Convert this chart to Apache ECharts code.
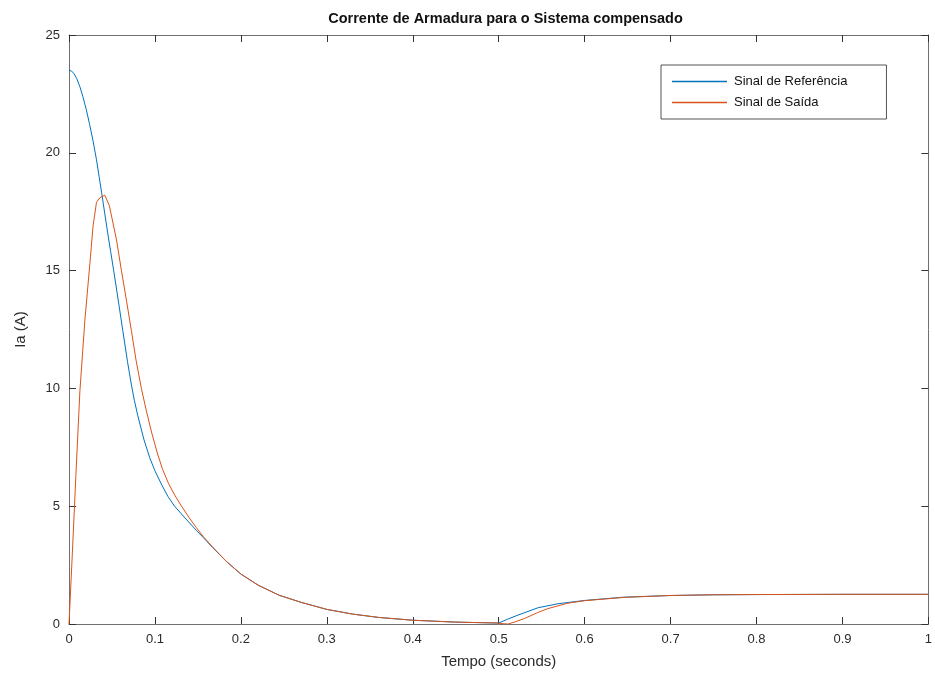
<!DOCTYPE html>
<html>
<head>
<meta charset="utf-8">
<script src="https://cdn.jsdelivr.net/npm/echarts@6/dist/echarts.min.js"></script>
<style>
html,body{margin:0;padding:0;background:#fff;}
#chart{width:935px;height:686px;}
</style>
</head>
<body>
<div id="chart"></div>
<script>
// ---- Data ----
const titleText = 'Corrente de Armadura para o Sistema compensado';
const xName = 'Tempo (seconds)';
const yName = 'Ia (A)';
const seriesNames = ['Sinal de Referência', 'Sinal de Saída'];

// Reference signal (blue)
const tRef = [0, 0.003, 0.006, 0.009, 0.0127, 0.016, 0.02, 0.024, 0.028, 0.032, 0.035, 0.038,
  0.0415, 0.045, 0.0485, 0.052, 0.056, 0.0626, 0.068, 0.0726, 0.076, 0.08, 0.087, 0.094, 0.1, 0.108,
  0.115, 0.1228, 0.135, 0.148, 0.156, 0.167, 0.183, 0.2, 0.22, 0.2445, 0.27, 0.3, 0.33, 0.36,
  0.4, 0.45, 0.5, 0.51, 0.5226, 0.5458, 0.569, 0.6, 0.646, 0.7, 0.75, 0.8, 0.9, 1.0];
const iaRef = [23.5, 23.47, 23.35, 23.15, 22.8, 22.4, 21.85, 21.2, 20.5, 19.7, 19.0, 18.3,
  17.45, 16.6, 15.8, 15.0, 14.05, 12.45, 11.15, 10.15, 9.5, 8.85, 7.85, 7.05, 6.5, 5.9,
  5.42, 5.0, 4.5, 3.98, 3.68, 3.25, 2.66, 2.12, 1.65, 1.22, 0.92, 0.62, 0.42, 0.28,
  0.16, 0.08, 0.04, 0.2, 0.38, 0.69, 0.86, 1.0, 1.14, 1.21, 1.24, 1.25, 1.26, 1.26];

// Output signal (orange)
const tOut = [0, 0.004, 0.008, 0.0127, 0.0185, 0.0243, 0.028, 0.032, 0.036, 0.0417, 0.047,
  0.0553, 0.061, 0.067, 0.0726, 0.078, 0.0842, 0.09, 0.096, 0.1024, 0.109, 0.116, 0.123,
  0.1306, 0.14, 0.148, 0.156, 0.167, 0.183, 0.2, 0.22,
  0.2445, 0.27, 0.3, 0.33, 0.36, 0.4, 0.45, 0.5, 0.505, 0.511, 0.52, 0.5304, 0.545, 0.557,
  0.58, 0.6, 0.646, 0.7, 0.75, 0.8, 0.9, 1.0];
const iaOut = [0, 3.1, 6.3, 9.9, 12.9, 15.3, 16.9, 17.9, 18.1, 18.2, 17.75,
  16.3, 15.0, 13.7, 12.45, 11.2, 10.0, 9.05, 8.15, 7.3, 6.55, 5.95, 5.47,
  5.02, 4.5, 4.1, 3.72, 3.27, 2.66, 2.12, 1.65,
  1.22, 0.92, 0.62, 0.42, 0.28, 0.16, 0.08, 0.04, 0.01, 0.0, 0.1, 0.24, 0.48, 0.65,
  0.88, 0.99, 1.13, 1.21, 1.24, 1.25, 1.26, 1.26];

const xTicks = {min: 0, max: 1, step: 0.1};
const yTicks = {min: 0, max: 25, step: 5};

// ---- Build ----
const zip = (xs, ys) => xs.map((x, i) => [x, ys[i]]);
const axisColor = '#6f6f6f';
const labelColor = '#2b2b2b';
const font = 'Liberation Sans, Arial, Helvetica, sans-serif';

function xFmt(v) {
  const r = Math.round(v * 10) / 10;
  return r === 0 ? '0' : (r === 1 ? '1' : r.toFixed(1));
}

const baseX = {
  type: 'value', min: xTicks.min, max: xTicks.max, interval: xTicks.step,
  axisLine: {show: true, onZero: false, lineStyle: {color: axisColor, width: 1}},
  axisTick: {show: true, inside: true, length: 7, lineStyle: {color: '#333', width: 1}},
  splitLine: {show: false}
};
const baseY = {
  type: 'value', min: yTicks.min, max: yTicks.max, interval: yTicks.step,
  axisLine: {show: true, onZero: false, lineStyle: {color: axisColor, width: 1}},
  axisTick: {show: true, inside: true, length: 7, lineStyle: {color: '#333', width: 1}},
  splitLine: {show: false}
};

const chart = echarts.init(document.getElementById('chart'), null, {renderer: 'canvas'});
chart.setOption({
  backgroundColor: '#ffffff',
  animation: false,
  title: {
    text: titleText, left: 500.5, top: 6, textAlign: 'center',
    textStyle: {fontFamily: font, fontSize: 14.5, fontWeight: 'bold', color: '#111'}
  },
  grid: {left: 69, right: 3, top: 35, bottom: 62, containLabel: false},
  xAxis: [
    Object.assign({}, baseX, {
      position: 'bottom',
      name: xName, nameLocation: 'middle', nameGap: 30,
      nameTextStyle: {fontFamily: font, fontSize: 15, color: labelColor},
      axisLabel: {show: true, margin: 9, color: labelColor, fontFamily: font, fontSize: 13, formatter: xFmt}
    }),
    Object.assign({}, baseX, {position: 'top', axisLabel: {show: false}})
  ],
  yAxis: [
    Object.assign({}, baseY, {
      position: 'left',
      name: yName, nameLocation: 'middle', nameGap: 41, nameRotate: 90,
      nameTextStyle: {fontFamily: font, fontSize: 15, color: labelColor},
      axisLabel: {show: true, margin: 9, color: labelColor, fontFamily: font, fontSize: 13}
    }),
    Object.assign({}, baseY, {position: 'right', axisLabel: {show: false}})
  ],
  legend: {
    data: seriesNames,
    orient: 'vertical', left: 661, top: 65,
    padding: [10, 39, 10, 11],
    itemGap: 8, itemWidth: 55, itemHeight: 1.5,
    icon: 'rect',
    borderColor: '#555', borderWidth: 1, backgroundColor: '#fff',
    textStyle: {fontFamily: font, fontSize: 13, color: '#111', padding: [0, 0, 0, 2]}
  },
  series: [
    {
      name: seriesNames[0], type: 'line', xAxisIndex: 0, yAxisIndex: 0,
      data: zip(tRef, iaRef), showSymbol: false, symbol: 'none',
      smooth: false,
      lineStyle: {color: '#0072BD', width: 1}, itemStyle: {color: '#0072BD'}
    },
    {
      name: seriesNames[1], type: 'line', xAxisIndex: 0, yAxisIndex: 0,
      data: zip(tOut, iaOut), showSymbol: false, symbol: 'none',
      smooth: false,
      lineStyle: {color: '#D95319', width: 1}, itemStyle: {color: '#D95319'}
    }
  ]
});
</script>
</body>
</html>
